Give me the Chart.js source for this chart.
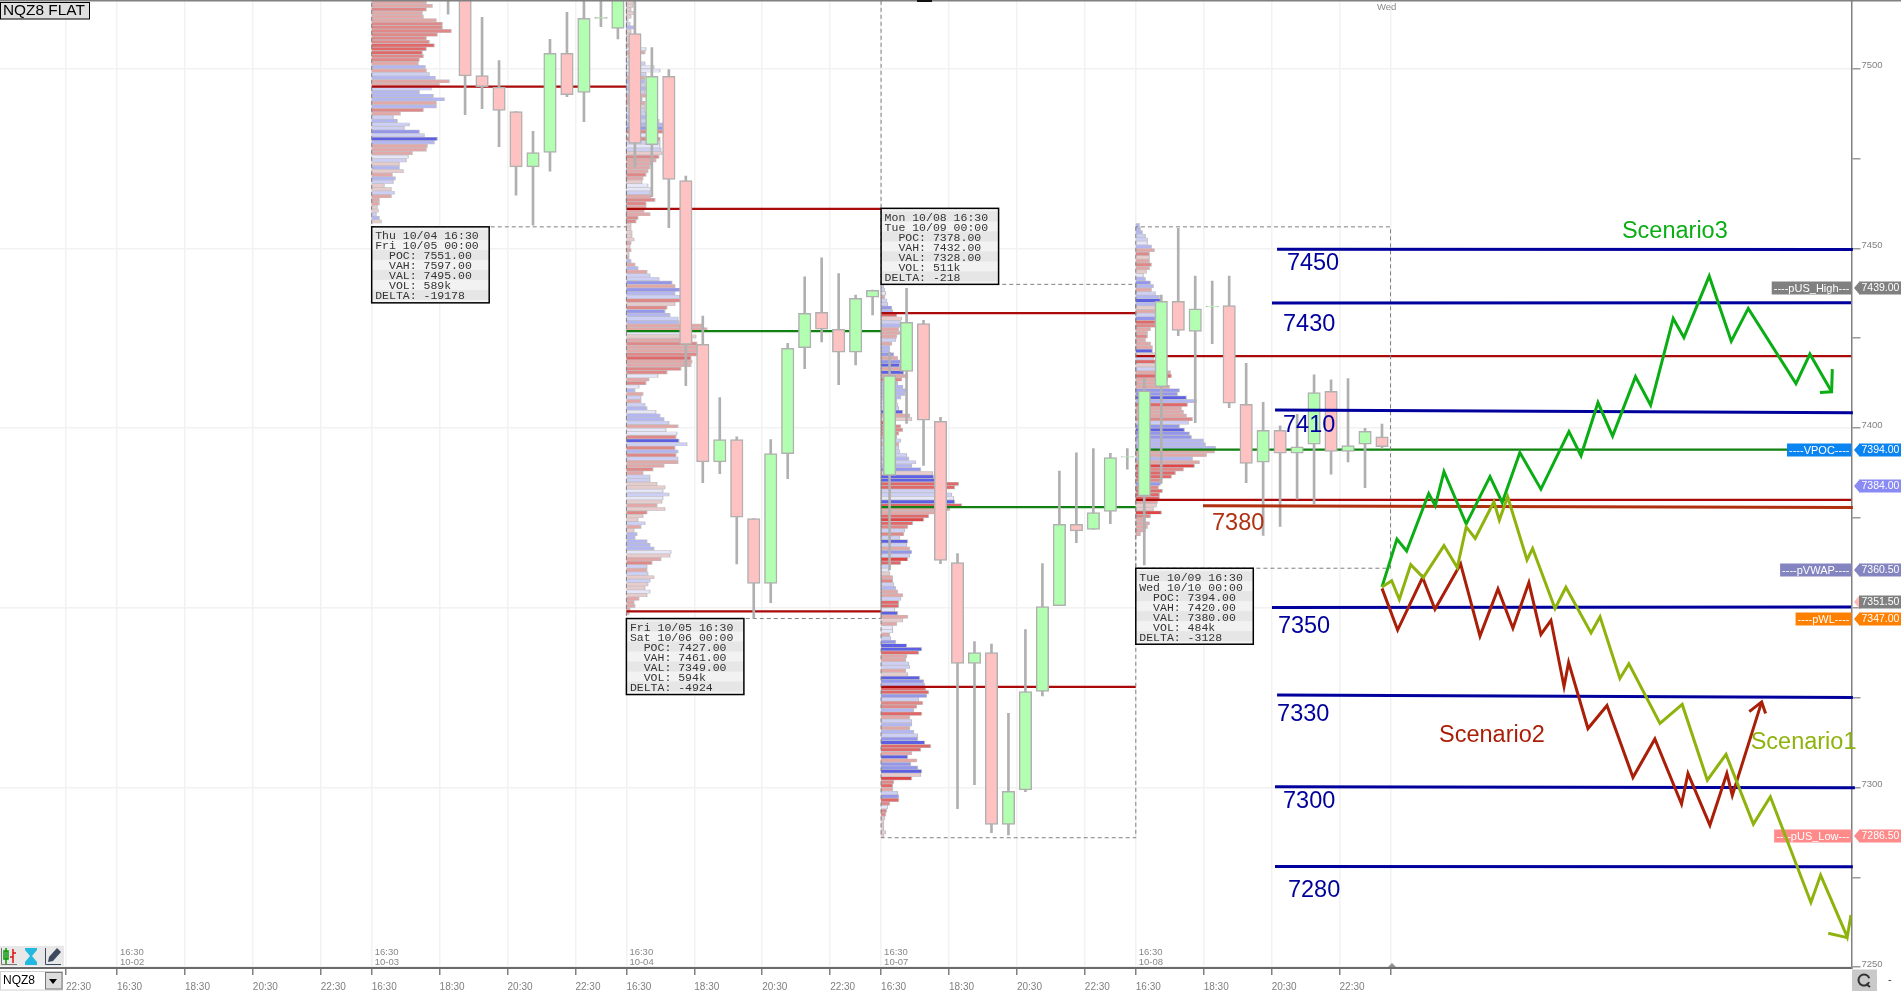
<!DOCTYPE html>
<html><head><meta charset="utf-8"><title>NQZ8 FLAT</title>
<style>html,body{margin:0;padding:0;background:#fff;overflow:hidden}canvas{display:block}</style>
<script src="https://cdn.jsdelivr.net/npm/chart.js@4/dist/chart.umd.min.js"></script>
</head><body><canvas id="c" width="1901" height="991"></canvas>
<script>
// ---- candles: consecutive 30-minute bars, first one is bar 19 ----
const firstBar = 19;
const opens  = [7540,7525,7498.1,7494.9,7488.1,7472.7,7476.7,7504.3,7493.4,7514,7511.2,
  7509.8,7478.9,7497.9,7468.9,7423.3,7390.6,7396.8,7374.8,7356.8,7392.9,7422.4,7432.2,7427.5,7421.1,7436.4,
  7386.8,7415.8,7429.1,7401.9,7362.6,7334.5,7337.5,7289.7,7299.3,7326.7,7350.6,7373.2,7371.8,7376.8,7391.9,
  7381.1,7411.5,7435.3,7426.9,7433.7,7434.1,7406.6,7390.5,7399.4,7393,7395.5,7410.2,7393.5,7395.5,7397.6];
const closes = [7528,7498,7495,7488.4,7472.7,7476.7,7504.3,7492.8,7514,7514.3,7525,
  7479.2,7497.9,7469.2,7423.3,7390.6,7396.8,7375.2,7356.8,7392.9,7422.2,7431.9,7427.5,7421.1,7436.1,7438.3,
  7414.6,7429.4,7402.2,7363.2,7334.5,7337.5,7289.7,7298.9,7326.7,7350.3,7373.2,7371.4,7376.5,7391.8,7392.1,
  7410.4,7435.3,7427.2,7433.2,7433.9,7406.9,7390.2,7399.4,7393,7394.8,7409.9,7393.5,7395.1,7399.1,7394.8];
const highs  = [7545,7530,7514.3,7502.3,7488.1,7482.6,7508.2,7515.7,7525,7522,7528,
  7520,7505.9,7499.8,7470.1,7431.2,7408.5,7397.6,7374.8,7396.8,7423.6,7442.1,7447.4,7443,7437,7438.4,
  7421.1,7438.9,7430,7403,7365.1,7340.6,7339.9,7320.6,7343.9,7362.3,7388,7393.1,7394.3,7393,7394.3,
  7413.8,7437,7455.6,7442.3,7440.9,7442.3,7418,7407.2,7400.6,7403.8,7414.8,7413.4,7413.8,7399.9,7401.1];
const lows   = [7515.2,7487.2,7488.9,7478.3,7464.8,7456.5,7471.5,7492.2,7485.3,7511.7,7508.3,
  7472.7,7464.4,7455.8,7411.8,7384.8,7387.3,7362.2,7347.1,7351.4,7385.9,7416.5,7424,7412.1,7417.6,7431.5,
  7360.5,7401.3,7389.6,7362.3,7294.1,7300.8,7287.4,7286.8,7298.8,7325.5,7350.6,7368.1,7371.8,7373.4,7388.6,
  7361.9,7384.6,7425.7,7401.5,7423.5,7405.7,7384.8,7370.1,7372.6,7380.2,7378.9,7387.2,7390.6,7383.4,7394.3];

// ---- volume profiles: rows one point apart, read top to bottom ----
const sessionStartBars = [14.5,29.5,44.5,59.5];
const sessionEndBars   = [29.5,44.5,59.5,74.5];
const profileTops = [7518.5,7518.5,7439.5,7456.5];
const volA = [54,60,54,50,51,64,70,70,79,65,54,57,62,54,50,51,47,46,53,54,57,63,77,67,59,47,61,72,64,64,51,28,21,25,37,32,47,52,65,62,55,54,40,36,34,27,27,31,20,23,21,12,19,22,19,7,7,5,6,4,7,9];
const toneA = [-2,-2,-3,-2,-2,-2,-3,-3,-3,-3,-3,-3,-4,-4,-4,-3,-3,-2,3,-2,2,3,-2,-2,2,3,3,3,-2,3,-3,-2,2,3,2,2,4,2,5,3,-2,-2,-2,1,2,-1,3,-1,-2,3,2,-1,-1,2,-2,-2,-2,-1,-1,2,3,-1];
const volB = [7,6,4,7,4,1,3,7,4,4,4,4,6,19,18,9,9,18,27,33,19,18,18,18,19,18,19,15,18,18,18,19,26,32,36,36,36,31,33,33,33,34,35,32,29,24,23,21,19,16,15,21,24,23,24,28,19,19,17,23,11,9,4,4,5,5,7,4,3,4,2,2,4,8,11,20,23,32,45,48,53,48,53,54,48,40,38,43,51,52,76,80,63,69,65,70,70,70,70,64,65,64,54,40,31,22,19,12,8,16,14,14,18,20,29,33,37,42,51,39,50,49,52,60,48,51,49,51,51,37,26,16,23,23,30,38,36,42,36,35,30,38,20,16,11,18,14,7,10,8,20,23,27,44,43,34,25,20,20,21,27,23,21,18,23,20,12,7,8,3,2];
const toneB = [-1,-1,-1,-1,-1,1,2,3,-1,-1,-1,-1,-2,1,-2,-1,1,2,1,1,2,-2,3,2,3,2,-2,-2,-2,-1,2,2,3,2,3,4,-3,1,-3,2,1,2,-1,-3,-2,-2,-2,-2,-3,-2,-1,1,1,2,-2,-3,-3,-2,-2,-2,-3,-3,-1,-1,-1,-1,-1,-2,-1,-2,-1,-2,3,-2,3,-2,2,2,4,-2,4,3,2,-3,-1,-3,4,3,2,3,-2,-2,1,-1,-2,-3,-2,-2,-3,-4,-2,-2,-3,-3,1,-2,-3,1,3,-2,2,-2,2,3,1,3,3,2,-2,1,1,-3,5,2,-3,3,-3,2,-2,-2,-3,-2,2,2,-1,-1,1,2,1,-1,-2,-1,-3,-1,-1,2,-2,-1,3,3,3,3,3,1,-1,-2,-3,2,-2,2,-1,2,-1,-1,1,-1,-2,-2,-2,-2,-2];
const volC = [2,3,4,3,5,6,10,11,15,20,19,20,17,18,15,14,10,8,8,12,16,19,18,20,22,26,20,16,21,25,23,19,15,16,17,21,28,30,11,19,21,17,15,19,17,17,18,25,27,34,30,39,51,52,53,77,73,62,70,72,73,80,68,53,47,42,31,26,23,22,18,26,
  25,28,30,28,26,19,8,7,8,11,11,12,14,16,21,19,17,17,13,16,26,21,15,11,11,8,9,14,25,40,37,25,24,27,28,24,26,38,42,43,44,47,45,37,41,35,32,40,28,30,30,28,32,36,36,43,49,39,30,26,35,29,36,40,39,30,12,11,11,16,17,17,8,6,5,4,3,2,2,2,4,2];
const toneC = [2,2,1,-2,2,2,4,3,-4,-1,2,3,-2,-2,-2,2,-2,3,3,4,-2,4,5,-2,5,-2,-3,3,3,3,3,3,2,2,2,5,-2,-1,-4,-3,-3,-3,-2,2,-2,2,2,2,3,2,3,4,-1,5,5,-4,-4,2,2,1,5,-4,-2,-2,-4,-5,-4,-3,2,-3,2,5,
  2,-2,4,2,-5,-4,2,1,-1,-2,-3,2,3,-2,-2,2,-4,-4,1,5,-2,-1,-2,1,1,-2,2,4,5,5,-4,-2,-2,2,2,-2,-1,5,4,3,-4,-4,4,2,-3,-3,3,-4,-2,2,3,-2,3,2,4,5,-4,-4,-2,5,-2,4,4,5,-1,-5,-3,-4,-2,2,4,-4,-3,1,-3,-3,-1,-1,-1,-1,-1,-1];
const volD = [3,4,6,9,11,11,15,18,13,13,13,15,13,10,7,9,14,17,15,19,23,24,25,19,19,19,19,19,19,14,11,11,9,14,16,16,19,17,19,19,19,34,35,31,28,33,43,41,50,60,51,45,47,50,56,52,43,48,53,55,67,69,79,78,70,56,63,58,47,39,35,24,24,22,26,23,23,21,20,17,25,14,9,13,11,9,4];
const toneD = [3,3,3,2,2,1,3,-2,-3,-1,-2,-3,-2,-1,1,3,4,3,-2,2,3,5,3,-1,-2,2,4,-4,-3,-2,-2,-3,-2,-2,-2,5,-1,2,-4,-1,2,-2,-4,-2,-2,-2,4,4,5,3,-4,-2,-2,-2,-3,2,4,5,4,4,3,3,3,-2,-2,3,-2,-5,-3,-4,-4,-3,4,-3,-4,-4,-4,-2,-1,-1,-5,-3,-2,-2,-2,-2,-2];

// ---- session levels ----
const sessionHighs = [7530,7530,7440,7456];
const sessionLows  = [7456,7347,7286,7361];
const redLevels   = [[0,7495],[1,7461],[1,7349],[2,7432],[2,7328],[3,7420],[3,7380]];
const greenLevels = [[1,7427],[2,7378],[3,7394]];
const lastLevelEndBar = 101.65;

// ---- hand-drawn levels and scenarios: [bar, price] ----
const blueLevels = [
  [[67.82,7449.8],[101.73,7449.7]],[[67.52,7434.8],[101.62,7434.9]],[[67.70,7405],[101.73,7404.3]],
  [[67.52,7350.1],[101.62,7350.2]],[[67.82,7325.7],[101.73,7325]],[[67.70,7300.2],[101.85,7299.9]],[[67.70,7278],[101.73,7277.9]]];
const brownLevel = [[63.46,7378.4],[101.73,7377.9]];
const scenario1 = [[74,7355.8],[74.57,7357.5],[75.02,7352.3],[75.69,7362],[76.43,7358.4],[77.65,7367.3],[78.43,7361.2],[78.96,7372.5],[79.49,7369.3],[80.59,7379.5],[80.91,7374.4],[81.4,7380.9],[82.54,7363.3],[82.87,7366.5],[84.19,7349.8],[84.83,7355.7],[86.31,7343],[86.84,7347.5],[88.01,7330.3],[88.54,7334.4],[90.37,7317.8],[91.68,7323.1],[93.16,7302],[94.26,7309.2],[95.87,7289.8],[96.87,7297.4],[99.26,7268],[99.83,7275.6],[101.4,7258.4],[101.62,7264.5]];
const scenario1Head = [[100.28,7259.4],[101.4,7258.2]];
const scenario2 = [[74,7355.4],[74.92,7343.8],[76.39,7358.4],[77.12,7349.6],[78.63,7362.2],[79.77,7342.1],[80.83,7355.2],[81.71,7344.3],[82.65,7357],[83.36,7342.6],[83.95,7346.5],[84.72,7328.1],[84.99,7334.8],[86.13,7316.4],[87.25,7322.8],[88.78,7302.8],[90.07,7313.5],[91.64,7295.4],[92.02,7303.9],[93.31,7289.5],[94.31,7303.9],[94.63,7297.8],[96.36,7323.8]];
const scenario2Head = [[95.63,7321.1],[96.36,7323.8],[96.59,7320.6]];
const scenario3 = [[74,7355.8],[74.88,7369.1],[75.45,7365.8],[76.75,7381.8],[77.14,7378.4],[77.65,7387.9],[78.96,7373.3],[80.36,7386.5],[81.08,7379.3],[82.12,7393.2],[83.36,7383],[85.01,7399],[85.72,7392.3],[86.72,7407.1],[87.58,7397.8],[88.93,7414.3],[89.82,7406.4],[91.15,7430.5],[91.78,7425.2],[93.27,7442.3],[94.57,7424.2],[95.57,7433.3],[98.38,7412.4],[99.2,7420.6],[100.48,7410.1]];
const scenario3Head = [[100.52,7416.4],[100.48,7410.1],[99.79,7409.9]];

const noteTexts  = ['7450','7430','7410','7380','7350','7330','7300','7280','Scenario3','Scenario2','Scenario1'];
const noteBars   = [68.40,68.17,68.17,63.99,67.87,67.82,68.17,68.46,88.13,77.36,95.71];
const notePrices = [7445.9,7428.9,7400.6,7373.4,7344.8,7320.4,7296,7271.4,7454.8,7314.5,7312.4];

// ---- axes ----
const yTickValues = [7250,7275,7300,7325,7350,7375,7400,7425,7450,7475,7500];
const xTickBars = [-3.5,-0.5,3.5,7.5,11.5,14.5,18.5,22.5,26.5,29.5,33.5,37.5,41.5,44.5,48.5,52.5,56.5,59.5,63.5,67.5,71.5,74.5];
const xTickLabels = ['22:30','16:30','18:30','20:30','22:30','16:30','18:30','20:30','22:30','16:30','18:30','20:30','22:30','16:30','18:30','20:30','22:30','16:30','18:30','20:30','22:30',''];
const sessionMarkBars = [-0.5,14.5,29.5,44.5,59.5];
const sessionDates = ['10-02','10-03','10-04','10-07','10-08'];

// ---- price tags ----
const tagPrices = [7439,7394,7384,7360.5,7351.5,7347,7286.5];
const tagTexts  = ['7439.00','7394.00','7384.00','7360.50','7351.50','7347.00','7286.50'];
const tagNames  = ['----pUS_High---','----VPOC----','','----pVWAP----','','----pWL----','----pUS_Low---'];
const tagColors = ['#808080','#0a84f0','#8a8af5','#8484c0','#808080','#ff8000','#ff8a8a'];

// ---- info boxes ----
const infoBoxes = [
 ['Thu 10/04 16:30','Fri 10/05 00:00','  POC: 7551.00','  VAH: 7597.00','  VAL: 7495.00','  VOL: 589k','DELTA: -19178'],
 ['Fri 10/05 16:30','Sat 10/06 00:00','  POC: 7427.00','  VAH: 7461.00','  VAL: 7349.00','  VOL: 594k','DELTA: -4924'],
 ['Mon 10/08 16:30','Tue 10/09 00:00','  POC: 7378.00','  VAH: 7432.00','  VAL: 7328.00','  VOL: 511k','DELTA: -218'],
 ['Tue 10/09 16:30','Wed 10/10 00:00','  POC: 7394.00','  VAH: 7420.00','  VAL: 7380.00','  VOL: 484k','DELTA: -3128']];
const infoAbove = [false,false,true,false];

// ---- build helpers ----
const PX_PER_BAR = 16.98;
const toPts = a => a.map(p => ({x:p[0],y:p[1]}));
const allVols = [volA,volB,volC,volD], allTones = [toneA,toneB,toneC,toneD];
function rows(tone, extra){
  const pts = [];
  allVols.forEach((v,s)=>{
    const b0 = sessionStartBars[s];
    v.forEach((len,i)=>{
      if (tone!==null && allTones[s][i]!==tone) return;
      const y = profileTops[s]-i;
      pts.push({x:b0,y},{x:b0+(len+extra)/PX_PER_BAR,y},{x:b0,y:null});
    });
  });
  return pts;
}
const toneColors = {'-1':'#e8cccc','-2':'#e2a8a8','-3':'#e08888','-4':'#e06868','-5':'#e04646','1':'#e6e6f8','2':'#cdcff5','3':'#b4b6f1','4':'#9496ec','5':'#5d60e2'};
const line = (data,color,width,order,extra={}) => Object.assign({type:'line',data,borderColor:color,borderWidth:width,pointRadius:0,tension:0,fill:false,order,spanGaps:false,borderJoinStyle:'miter'},extra);

const datasets = [];
datasets.push(line(rows(null,1),'#c0c0c4',3.6,30,{borderCapStyle:'butt'}));
Object.keys(toneColors).forEach(t=>datasets.push(line(rows(+t,0),toneColors[t],2.8,29,{borderCapStyle:'butt'})));
// session levels
const levelSeg = (l)=>{const s=l[0];const end=s===3?lastLevelEndBar:sessionEndBars[s];return [{x:sessionStartBars[s],y:l[1]},{x:end,y:l[1]},{x:end,y:null}];};
datasets.push(line(redLevels.flatMap(levelSeg),'#aa0a0a',2.2,20));
datasets.push(line(greenLevels.flatMap(levelSeg),'#108010',2.2,20));
// session dashed boxes
sessionStartBars.forEach((b,i)=>{
  const e=sessionEndBars[i];
  datasets.push(line([{x:b,y:sessionHighs[i]},{x:b,y:sessionLows[i]},{x:e,y:sessionLows[i]},{x:e,y:sessionHighs[i]},{x:b,y:sessionHighs[i]}],'#808080',1,19,{borderDash:[4,3]}));
});
// candles
const candleIdx = opens.map((_,i)=>firstBar+i);
datasets.push({type:'bar',data:candleIdx.map((x,i)=>({x,y:[lows[i],highs[i]]})),backgroundColor:'#b0b0b0',barThickness:2,grouped:false,order:12,borderWidth:0});
datasets.push({type:'bar',data:candleIdx.map((x,i)=>({x,y:[opens[i],closes[i]]})),
  backgroundColor:opens.map((o,i)=>closes[i]>o?'#b2ffb2':'#ffc2c2'),borderColor:'#b0b0b0',borderWidth:1.5,borderSkipped:false,barThickness:12.5,grouped:false,order:11});
// hand lines
blueLevels.forEach(l=>datasets.push(line(toPts(l),'#00009c',3,5,{clip:5,label:'hand'})));
datasets.push(line(toPts(brownLevel),'#b03010',3,5,{clip:5}));
datasets.push(line(toPts(scenario3),'#0aae14',3,3));
datasets.push(line(toPts(scenario3Head),'#0aae14',3,3));
datasets.push(line(toPts(scenario2),'#aa1f08',3,2));
datasets.push(line(toPts(scenario2Head),'#aa1f08',3,2));
datasets.push(line(toPts(scenario1),'#8fb30d',3,1));
datasets.push(line(toPts(scenario1Head),'#8fb30d',3,1));

function drawTags(chart){
  const c=chart.ctx,y=chart.scales.y,R=chart.chartArea.right;
  c.save();c.textBaseline='middle';
  tagPrices.forEach((p,i)=>{
    const py=Math.round(y.getPixelForValue(p));
    if(tagNames[i]){
      c.font='11px "Liberation Sans"';
      const w=c.measureText(tagNames[i]).width+4;
      c.fillStyle=tagColors[i];c.fillRect(R-w,py-6.5,w,13);
      c.fillStyle='#fff';c.textAlign='right';c.fillText(tagNames[i],R-2,py+.5);
    }
    const arrow=i===4?'#ffb8b8':tagColors[i];
    c.fillStyle=arrow;c.beginPath();c.moveTo(R+2.5,py);c.lineTo(R+8,py-6.5);c.lineTo(R+8,py+6.5);c.closePath();c.fill();
    c.fillStyle=tagColors[i];c.fillRect(R+7.5,py-6.5,42,13);
    c.font='10.5px "Liberation Sans"';
    c.fillStyle='#fff';c.textAlign='left';c.fillText(tagTexts[i],R+10,py+.5);
  });
  c.restore();
}
let tagsDone=false;
const overlay={id:'overlay',
  beforeDatasetDraw(chart,args){
    if(!tagsDone && chart.data.datasets[args.index].label==='hand'){tagsDone=true;drawTags(chart);}
  },
  afterDraw(chart){
    const c=chart.ctx,x=chart.scales.x,y=chart.scales.y,A=chart.chartArea;
    c.save();
    // info boxes
    infoBoxes.forEach((b,s)=>{
      const L=x.getPixelForValue(sessionStartBars[s]);
      const edge=y.getPixelForValue(infoAbove[s]?sessionHighs[s]:sessionLows[s]);
      const T=infoAbove[s]?edge-76:edge,W=117.5,H=76;
      c.fillStyle='#f2f2f2';c.fillRect(L,T,W,H);
      b.forEach((t,i)=>{
        if(i%2===0){c.fillStyle='#e6e6e6';c.fillRect(L,T+3+i*10,W,10);}
        c.fillStyle='#333';c.font='11.5px "Liberation Mono"';c.textBaseline='middle';c.textAlign='left';
        c.fillText(t,L+3.5,T+9.5+i*10);
      });
      c.strokeStyle='#000';c.lineWidth=1.5;c.strokeRect(L,T,W,H);
    });
    // session stamps
    c.fillStyle='#888';c.font='9.5px "Liberation Sans"';c.textBaseline='middle';c.textAlign='left';
    sessionMarkBars.forEach((b,i)=>{const px=x.getPixelForValue(b)+3;c.fillText('16:30',px,952);c.fillText(sessionDates[i],px,962.5);});
    c.fillText('Wed',1377,7);
    // notes
    c.font='23.5px "Liberation Sans"';c.textBaseline='middle';
    noteTexts.forEach((t,i)=>{
      c.fillStyle=t==='7380'?'#b03010':t==='Scenario3'?'#0aae14':t==='Scenario2'?'#aa1f08':t==='Scenario1'?'#8fb30d':'#00009c';
      c.fillText(t,x.getPixelForValue(noteBars[i]),y.getPixelForValue(notePrices[i]));
    });
    // frame bits
    c.fillStyle='#808080';c.fillRect(0,0,1901,1.5);
    c.fillStyle='#111';c.fillRect(917,0,15,2);
    c.fillStyle='#909090';c.beginPath();c.moveTo(1392,963);c.lineTo(1388,967);c.lineTo(1396,967);c.closePath();c.fill();
    // symbol label
    c.fillStyle='#e0e0e0';c.fillRect(0,2,89.5,17);c.strokeStyle='#000';c.lineWidth=1;c.strokeRect(.5,2.5,89,16.5);
    c.fillStyle='#000';c.font='15.4px "Liberation Sans"';c.fillText('NQZ8 FLAT',3,11);
    // toolbar
    c.fillStyle='#e8e8e8';c.fillRect(0,946,64,20);
    c.fillStyle='#c8f0c8';c.strokeStyle='#0a9a0a';c.lineWidth=1.5;c.strokeRect(4,951,4,8);c.beginPath();c.moveTo(6,948);c.lineTo(6,964);c.stroke();
    c.strokeStyle='#e01010';c.beginPath();c.moveTo(13,949);c.lineTo(13,963);c.moveTo(13,953);c.lineTo(16,953);c.moveTo(13,957);c.lineTo(10,957);c.stroke();
    c.strokeStyle='#777';c.lineWidth=1;c.beginPath();c.moveTo(1.5,948);c.lineTo(1.5,964.5);c.lineTo(17,964.5);c.stroke();
    c.fillStyle='#22b8e0';c.beginPath();c.moveTo(25,948);c.lineTo(37,948);c.lineTo(37,950);c.lineTo(32,956);c.lineTo(37,962);c.lineTo(37,965);c.lineTo(25,965);c.lineTo(25,962);c.lineTo(30,956);c.lineTo(25,950);c.closePath();c.fill();
    c.strokeStyle='#3c4a60';c.lineWidth=1;c.beginPath();c.moveTo(45.5,948);c.lineTo(45.5,964.5);c.lineTo(61,964.5);c.stroke();
    c.fillStyle='#3c4a60';c.beginPath();c.moveTo(48,962);c.lineTo(49,957);c.lineTo(57,948);c.lineTo(61,952);c.lineTo(53,961);c.closePath();c.fill();
    // symbol selector
    c.fillStyle='#fff';c.fillRect(0,971,63,20);c.strokeStyle='#d0d0d0';c.strokeRect(.5,971.5,62,18.5);
    c.fillStyle='#ddd';c.fillRect(45,972,17,17);c.strokeStyle='#777';c.strokeRect(45.5,972.5,16.5,16.5);
    c.fillStyle='#000';c.beginPath();c.moveTo(49,979);c.lineTo(57,979);c.lineTo(53,984);c.closePath();c.fill();
    c.font='12px "Liberation Sans"';c.fillText('NQZ8',3,981);
    // refresh corner
    c.fillStyle='#c9c9c9';c.fillRect(1852,969.5,25,21.5);
    c.strokeStyle='#333';c.lineWidth=2;c.beginPath();c.arc(1864,980,5.5,0.4,Math.PI*1.9);c.stroke();
    c.beginPath();c.moveTo(1866,984);c.lineTo(1870,987);c.stroke();
    c.fillStyle='#333';c.font='11px "Liberation Sans"';c.fillText('-',1888,980);
    c.restore();
  }
};

new Chart(document.getElementById('c'),{
  type:'bar',
  data:{datasets},
  plugins:[overlay],
  options:{
    responsive:false,animation:false,devicePixelRatio:1,events:[],
    layout:{padding:{top:1,left:0,right:0,bottom:0}},
    plugins:{legend:{display:false},tooltip:{enabled:false}},
    scales:{
      x:{type:'linear',min:-7.39,max:101.65,offset:false,
        afterFit:s=>{s.height=23;s.paddingLeft=0;s.paddingRight=0;},
        afterBuildTicks:s=>{s.ticks=xTickBars.map(v=>({value:v}));},
        border:{color:'#6a6a6a',width:2},
        grid:{color:'#f2f2f2',offset:false,tickColor:'#808080',tickLength:7,lineWidth:1.5},
        ticks:{autoSkip:false,maxRotation:0,minRotation:0,align:'start',padding:6,color:'#808080',font:{family:'"Liberation Sans"',size:10},
          callback:(v,i)=>xTickLabels[i]}},
      y:{type:'linear',position:'right',min:7249.75,max:7518.85,
        afterFit:s=>{s.width=49.5;s.paddingTop=0;s.paddingBottom=0;},
        afterBuildTicks:s=>{s.ticks=yTickValues.map(v=>({value:v}));},
        border:{color:'#808080',width:1.5},
        grid:{color:c=>(c.tick&&c.tick.value%50===0)?'#f2f2f2':'rgba(0,0,0,0)',tickColor:'#999',tickLength:9,lineWidth:1.5},
        ticks:{autoSkip:false,padding:1,color:'#808080',font:{family:'"Liberation Sans"',size:9.5,lineHeight:.65},
          callback:v=>v%50===0?[String(v),'']:''}}
    }
  }
});
</script></body></html>
